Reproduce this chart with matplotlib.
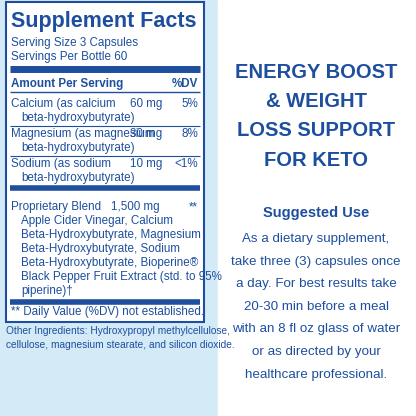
import matplotlib
matplotlib.use("Agg")
import matplotlib.pyplot as plt
from matplotlib.patches import Rectangle

BLUE = "#1d4f9e"
LIGHT = "#d5eaf7"

title = "Supplement Facts"
serving = ["Serving Size 3 Capsules", "Servings Per Bottle 60"]
nutrients = [("Calcium (as calcium", "beta-hydroxybutyrate)"),
             ("Magnesium (as magnesium", "beta-hydroxybutyrate)"),
             ("Sodium (as sodium", "beta-hydroxybutyrate)")]
amounts = ["60 mg", "30 mg", "10 mg"]
dvs = ["5%", "8%", "<1%"]
blend_lines = ["Apple Cider Vinegar, Calcium", "Beta-Hydroxybutyrate, Magnesium",
               "Beta-Hydroxybutyrate, Sodium", "Beta-Hydroxybutyrate, Bioperine®",
               "Black Pepper Fruit Extract (std. to 95%", "piperine)†"]
other = ["Other Ingredients: Hydroxypropyl methylcellulose,",
         "cellulose, magnesium stearate, and silicon dioxide."]
headline = ["ENERGY BOOST", "& WEIGHT", "LOSS SUPPORT", "FOR KETO"]
use_lines = ["As a dietary supplement,", "take three (3) capsules once",
             "a day. For best results take", "20-30 min before a meal",
             "with an 8 fl oz glass of water", "or as directed by your",
             "healthcare professional."]

fig = plt.figure(figsize=(4.16, 4.16), dpi=100)
ax = fig.add_axes([0, 0, 1, 1])
ax.set_xlim(0, 416); ax.set_ylim(416, 0); ax.axis("off")
ax.add_patch(Rectangle((0, 0), 218, 416, color=LIGHT, zorder=0))
ax.add_patch(Rectangle((218, 0), 198, 416, color="white", zorder=0))
ax.add_patch(Rectangle((6, 2), 198, 320, facecolor="white", edgecolor=BLUE, lw=1.5, zorder=1))

def t(x, y, s, size=8.4, **kw):
    ax.text(x, y, s, color=BLUE, fontsize=size, va="center", family="Liberation Sans", **kw)

def hl(y, w=1.0):
    ax.plot([10, 200], [y, y], color=BLUE, lw=w, solid_capstyle="butt")

t(11, 21, title, size=15.5, weight="bold")
t(11, 43, serving[0]); t(11, 57, serving[1])
hl(69, 5)
t(11, 84, "Amount Per Serving", weight="bold"); t(198, 84, "%DV", weight="bold", ha="right")
hl(92)
y = 104
for (a, b), amt, dv in zip(nutrients, amounts, dvs):
    t(11, y, a); t(21, y + 14, b); t(162, y, amt, ha="right"); t(198, y, dv, ha="right")
    if dv != "<1%":
        hl(y + 22, 0.8)
    y += 30
hl(188, 4)
yb = 207
t(11, yb, "Proprietary Blend"); t(160, yb, "1,500 mg", ha="right"); t(198, yb, "**", ha="right")
for i, s in enumerate(blend_lines):
    t(21, yb + 14 * (i + 1), s)
hl(302, 4)
t(11, 312, "** Daily Value (%DV) not established.")
for i, s in enumerate(other):
    t(6, 331 + 14 * i, s, size=7.3)

for i, s in enumerate(headline):
    t(316, 72 + 29.5 * i, s, size=14.5, weight="bold", ha="center")
t(316, 213, "Suggested Use", size=10.5, weight="bold", ha="center")
for i, s in enumerate(use_lines):
    t(316, 239 + 22.6 * i, s, size=9.6, ha="center")

fig.savefig("out.png", dpi=100)
